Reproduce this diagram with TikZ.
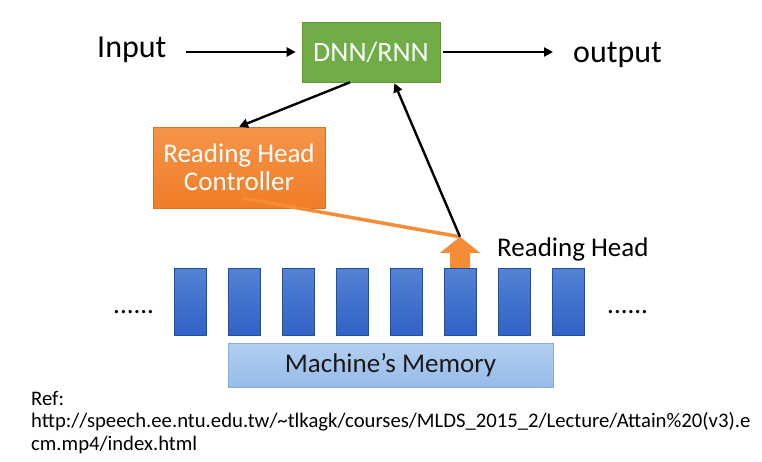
\documentclass[tikz,border=0pt]{standalone}
\usepackage{fontspec}
\setmainfont{Carlito}
\usetikzlibrary{arrows.meta, positioning}

\definecolor{dnngreen}{RGB}{112,173,71}
\definecolor{ctrlorange}{RGB}{240,125,40}
\definecolor{ctrltop}{RGB}{246,148,72}
\definecolor{celltop}{RGB}{84,130,212}
\definecolor{cellbot}{RGB}{48,98,198}
\definecolor{memtop}{RGB}{178,207,240}
\definecolor{membot}{RGB}{150,188,232}
\definecolor{memline}{RGB}{135,172,218}
\definecolor{headorange}{RGB}{247,140,55}

\tikzset{
  conn/.style={line width=2.4pt, -{Triangle[length=9pt,width=9pt]}},
  bigtxt/.style={inner sep=0pt, font=\fontsize{32}{38}\selectfont},
  labtxt/.style={inner sep=0pt, font=\fontsize{27}{28}\selectfont},
  reftxt/.style={inner sep=0pt, anchor=base west, font=\fontsize{20.7}{23}\selectfont},
  dnnbox/.style={fill=dnngreen, draw=dnngreen!85!black, line width=0.6pt,
    minimum width=138pt, minimum height=60pt, text=white,
    font=\fontsize{28}{30}\selectfont},
  ctrlbox/.style={top color=ctrltop, bottom color=ctrlorange,
    draw=ctrlorange!90!black, line width=0.6pt, minimum width=172pt,
    minimum height=81pt, text=white, align=center,
    font=\fontsize{27}{28}\selectfont},
  cell/.style={top color=celltop, bottom color=cellbot, draw=cellbot!80!black,
    line width=0.4pt, minimum width=32pt, minimum height=67pt, inner sep=0pt},
  membox/.style={top color=memtop, bottom color=membot, draw=memline,
    line width=0.8pt, minimum width=325pt, minimum height=44pt,
    font=\fontsize{27}{28}\selectfont, text=black!90},
}

\begin{document}
\begin{tikzpicture}[x=1pt,y=-1pt]
\useasboundingbox (0,0) rectangle (762,461);

%Network
\node[dnnbox] (dnn) at (371,52) {DNN/RNN};
\node[bigtxt, anchor=base west] (input) at (97,57) {Input};
\node[bigtxt, anchor=base west] (output) at (573,62) {output};
\coordinate (inbeg) at (186,52);
\coordinate (outend) at (553,52);
\draw[conn, shorten >=6pt] (inbeg) -- (dnn.west);
\draw[conn, shorten <=3pt] (dnn.east) -- (outend);

%Controller
\node[ctrlbox] (ctrl) at (239,167.5) {Reading Head\\Controller};

%Memory
\foreach \i in {0,...,7}
	\node[cell] (c\i) at (190+54*\i,301.5) {};
\node[membox] (mem) at (390.5,365) {Machine’s Memory};
\node[labtxt, anchor=base west] (ldots) at (113,313) {......};
\node[labtxt, anchor=base west] (rdots) at (607,313) {......};

%Reading Head
\coordinate (tip) at ([yshift=31pt]c5.north);
\fill[headorange] ([xshift=-10pt]c5.north) -- ++(0,-15) -- ++(-10,0) -- (tip)
	-- ++(20,16) -- ++(-10,0) -- ([xshift=10pt]c5.north) -- cycle;
\node[labtxt, anchor=base west] (headlbl) at (497,256) {Reading Head};

%Arrows
\draw[headorange, line width=3.5pt] ([xshift=4pt,yshift=10pt]ctrl.south) -- (tip);
\draw[conn, shorten >=1pt] (tip) -- ([xshift=23pt]dnn.south);
\draw[conn] ([xshift=-21pt]dnn.south) -- (ctrl.north);

%Reference
\node[reftxt] (ref) at (31,405) {Ref:};
\node[reftxt] (url) at (31,427.5) {http://speech.ee.ntu.edu.tw/\textasciitilde tlkagk/courses/MLDS\_2015\_2/Lecture/Attain\%20(v3).e};
\node[reftxt] (url2) at (31,450) {cm.mp4/index.html};
\end{tikzpicture}
\end{document}
